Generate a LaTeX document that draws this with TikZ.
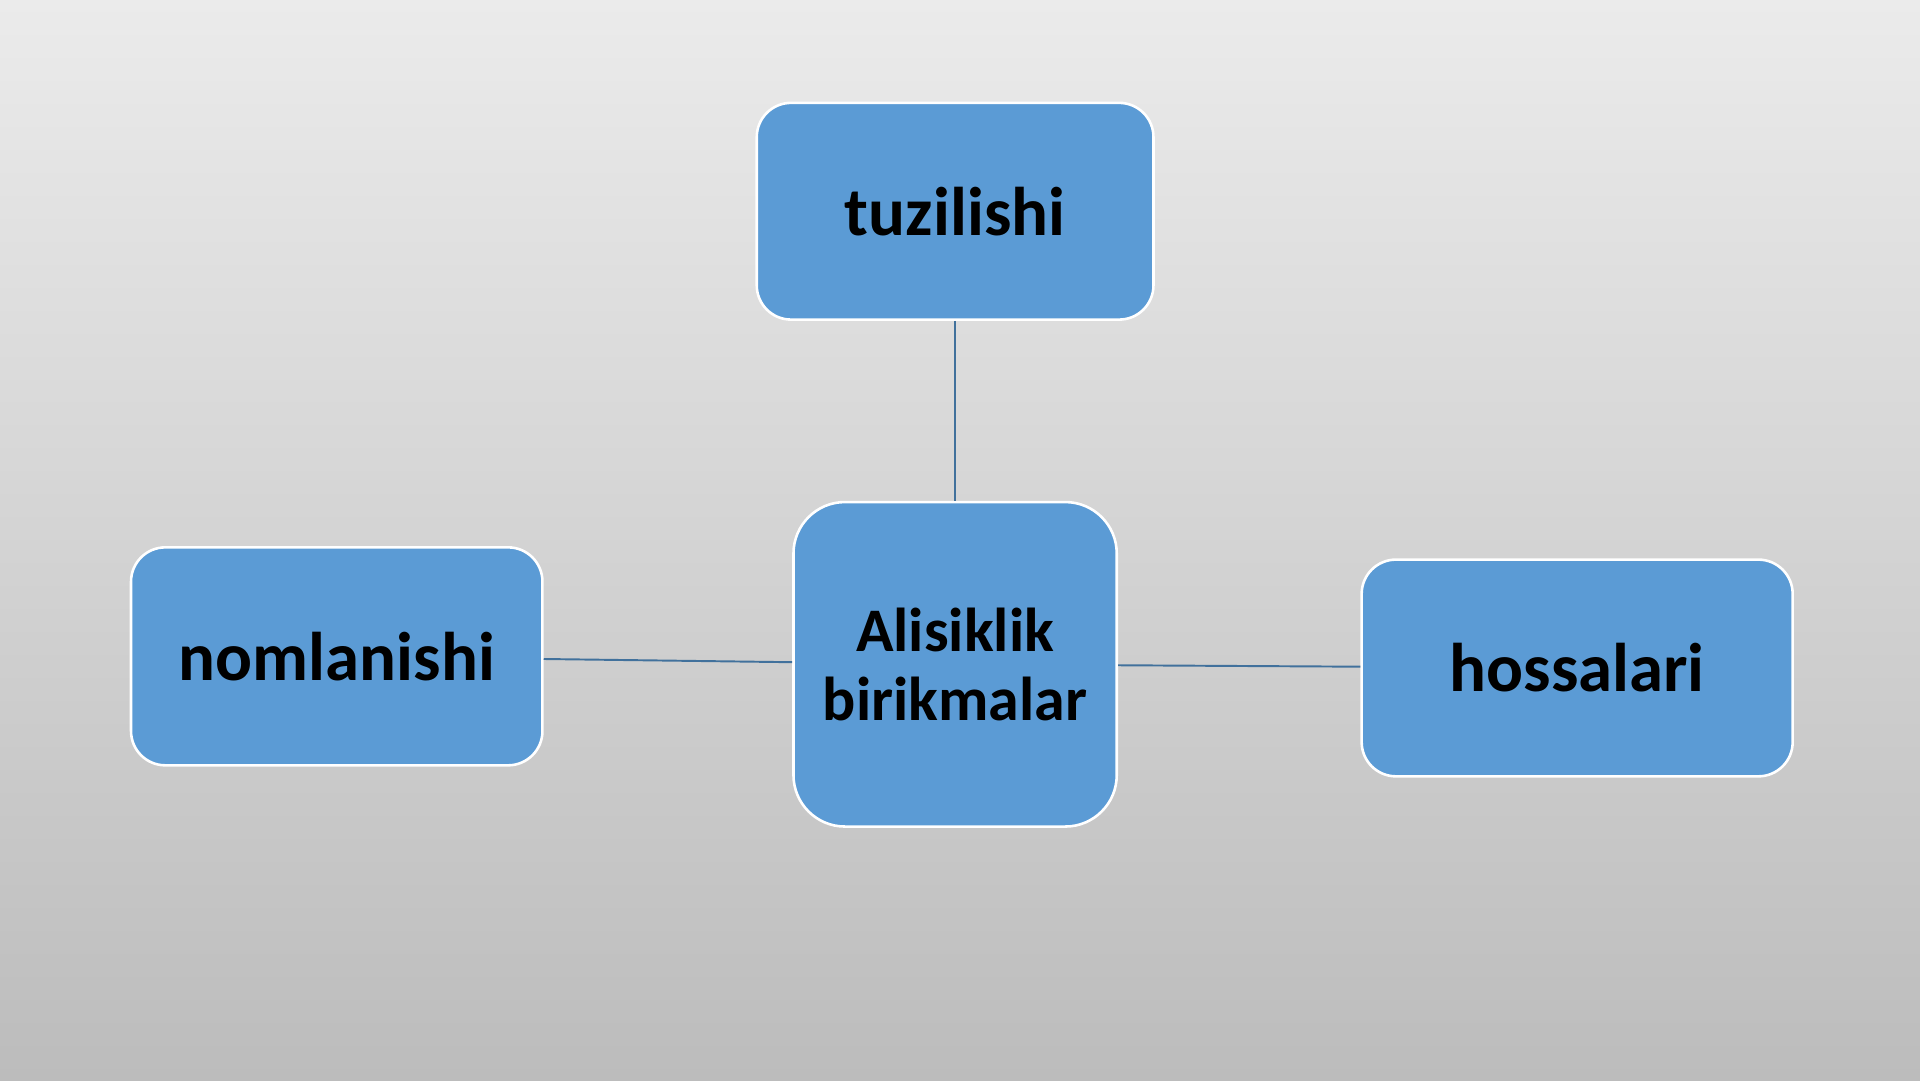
\documentclass[tikz,border=0pt]{standalone}
\usepackage{fontspec}
\setmainfont{Carlito}
\usetikzlibrary{positioning}
\definecolor{boxblue}{HTML}{5B9BD5}
\definecolor{linkblue}{HTML}{41719C}
\definecolor{bgtop}{HTML}{EBEBEB}
\definecolor{bgbottom}{HTML}{BCBCBC}
\tikzstyle{topic} = [draw=white,line width=0.6pt,fill=boxblue,rounded corners=0.28cm,
  font=\fontsize{16}{19}\selectfont\bfseries,text=black,align=center,inner sep=0pt]
\tikzstyle{link} = [draw=linkblue,line width=0.45pt]

\begin{document}
\begin{tikzpicture}[node distance=2cm,on grid]
   \shade[top color=bgtop,bottom color=bgbottom] (0,0) rectangle (15.68,8.82);
   \useasboundingbox (0,0) rectangle (15.68,8.82);

   \node[topic,minimum width=2.64cm,minimum height=2.65cm,rounded corners=0.42cm,
     font=\fontsize{14.4}{16}\selectfont\bfseries] (center) at (7.80,3.395) {Alisiklik\\birikmalar};
   \node[topic,minimum width=3.24cm,minimum height=1.77cm] (top) [above=3.70 of center] {tuzilishi};
   \node[topic,minimum width=3.36cm,minimum height=1.78cm] (left) [above left=0.065 and 5.05 of center] {nomlanishi};
   \node[topic,minimum width=3.52cm,minimum height=1.77cm] (right) [below right=0.03 and 5.08 of center] {hossalari};

   \path[link] (top) -- (center);
   \path[link] (left) -- (center);
   \path[link] (center) -- (right);

  \end{tikzpicture}
\end{document}
